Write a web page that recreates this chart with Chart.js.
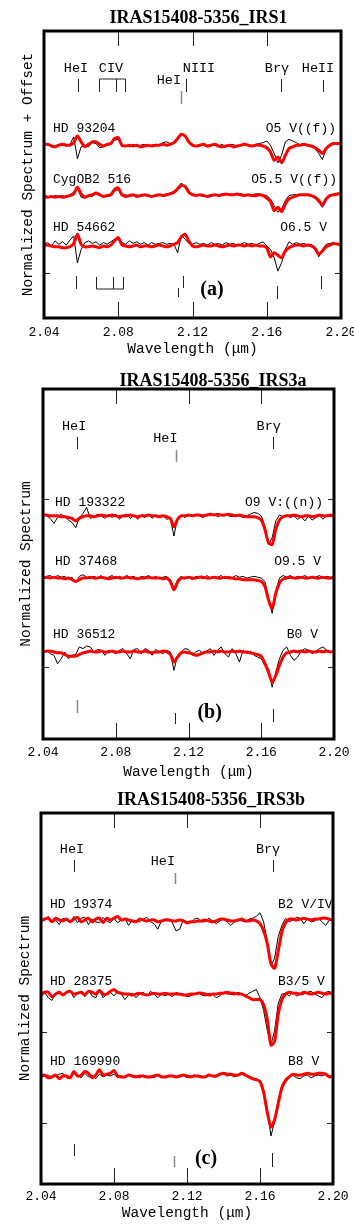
<!DOCTYPE html>
<html><head><meta charset="utf-8">
<script src="https://cdn.jsdelivr.net/npm/chart.js@4.4.1/dist/chart.umd.min.js"></script>
<style>
html,body{margin:0;padding:0;background:#fff;width:354px;height:1232px;overflow:hidden;}
canvas{position:absolute;left:0;}
</style></head><body>
<canvas id="pa" width="354" height="360" style="top:0px"></canvas>
<canvas id="pb" width="354" height="420" style="top:362px"></canvas>
<canvas id="pc" width="354" height="447" style="top:785px"></canvas>
<script>
// ---------- DATA ----------
const wavelengths = [2.040,2.042,2.044,2.046,2.048,2.050,2.052,2.054,2.056,2.058,2.060,2.062,2.064,2.066,2.068,2.070,2.072,2.074,2.076,2.078,2.080,2.082,2.084,2.086,2.088,2.090,2.092,2.094,2.096,2.098,2.100,2.102,2.104,2.106,2.108,2.110,2.112,2.114,2.116,2.118,2.120,2.122,2.124,2.126,2.128,2.130,2.132,2.134,2.136,2.138,2.140,2.142,2.144,2.146,2.148,2.150,2.152,2.154,2.156,2.158,2.160,2.162,2.164,2.166,2.168,2.170,2.172,2.174,2.176,2.178,2.180,2.182,2.184,2.186,2.188,2.190,2.192,2.194,2.196,2.198,2.200];
const xTickLabels = [2.04, 2.08, 2.12, 2.16, 2.20];

// Panel (a) IRS1 - flux deviations from continuum in percent
const titleA = 'IRAS15408-5356_IRS1';
const starsA = ['HD 93204', 'CygOB2 516', 'HD 54662'];
const typesA = ['O5 V((f))', 'O5.5 V((f))', 'O6.5 V'];
const offsetsA = [0.6, 0.3, 0];
const yRangeA = [0.571, 2.280];
const yTicksA = [0.84];
const a1Red = [0.5,0.5,-0.5,-1,0,0.5,0,0,1.5,5.5, 2,-1,0.5,2,2,0.5,-0.5,0.5,1,4, 4.5,0,-0.5,0,-0.5,0,-1,-0.5,0,-0.5, 0,0,0.5,0,0.5,1.5,4,6.5,5.5,2, 0,-0.5,0,0.5,-0.5,0,0.5,-0.5,-1,-0.5, 0,-1,-0.5,0,0.5,0,-0.5,0,0,-0.5, -1.5,-4,-9,-7,-10.5,-6,-2,-1,0,0, 0.5,0,-0.5,-1.5,-3,-5,-2,0,1,1,1];
const a1Black = [0,1,0,-1,0.5,0,-0.5,0.5,5,-8, -1,0,-1,1.5,1,-1.5,-1,0,0.5,3, 3.5,-1,0,-1,0.5,-0.5,0,0.5,-0.5,0, 0.5,0,1.5,2,1,2,4.5,6.5,5,1.5, 0.5,-0.5,0.5,0,-1,0.5,0,-0.5,0.5,-1, 0,0.5,-0.5,0,1,0,-0.5,0.5,1,1.5, 2.5,0,-5,-10.5,-6,2,3.5,2.5,1.5,0, 0.5,0,-0.5,-2,-5,-8.5,-2,0,0.5,1,0.5];
const a2Red = [-0.5,-1,-0.5,-1,-0.5,-1,-0.5,0,1,5, 1,-1,0,0.5,1.5,0.5,-0.5,0,0.5,3.5, 4.5,0.5,-0.5,0,0.5,-0.5,0,0.5,0,-0.5, 0,0.5,0,0.5,1,2,4,6,5.5,2, 0.5,0,0.5,0,-0.5,0,0.5,0,0.5,1, 0.5,0.5,1,0.5,0,0.5,0,0,0.5,0, -1.5,-3.5,-9,-7,-9.5,-5,-2,-1,0,0.5, 0.5,0.5,0,-1,-3,-5.5,-2,0,0.5,1,1];
const a2Black = [0,-0.5,-1,0,-0.5,0,-1,0.5,2,4.5, -1,-1.5,0,-0.5,1,0,-1,0.5,0,3, 3.5,0,0.5,-0.5,0,0.5,-0.5,0,0.5,0, -0.5,0.5,0,1,1.5,2.5,5,7.5,5,1.5, 0,0.5,0,-0.5,0,0.5,0,0.5,1,0.5, 1,0.5,0.5,1,0.5,0,0.5,1,1,0.5, 0,-2,-6,-10,-8,-3,0,0.5,0.5,0, 0.5,0,-0.5,-1.5,-4,-7,-2.5,0,0.5,0.5,1];
const a3Red = [0.5,0.5,0,-0.5,-0.5,-1,-1,-0.5,1.5,7, 1,-0.5,-0.5,0,-0.5,-1,0,-0.5,0.5,3, 5,0.5,0,-0.5,0,0.5,-0.5,0,0,-0.5, 0,0.5,0,-0.5,0,1,2,5.5,7,3, 0,-0.5,0,0.5,0,0,0.5,0,-0.5,0, 0.5,0,0.5,0.5,0,0.5,0,0.5,0,0, -1,-6.5,-4,-5.5,-7,-3,-1,0,0.5,0.5, 0,0.5,0,-1.5,-5,-3,-0.5,0.5,1.5,1,1];
const a3Black = [1,2,0,3,1,2.5,0.5,3.5,6,-10, -2,2,3,1.5,2.5,0.5,2,1,2.5,4, 4,2,1,3,1.5,2.5,1,2,0.5,2, 1,1.5,2,1,1.5,1,-4,6.5,4,1.5, 1,2,1,1.5,0.5,2,1,1.5,0.5,2, 1,1.5,0.5,1,2,1,1.5,0.5,1.5,2.5, 0,-2,-7,-15,-10,-2,2.5,1,2,1, 1.5,0.5,1,-1,-6.5,-2,1,1.5,2,1,1.5];
const idTextA = ['HeI', 'CIV', 'HeI', 'NIII', 'Brγ', 'HeII'];
const idWaveA = [2.0572, 2.0761, 2.1073, 2.1235, 2.1655, 2.1876];
const markTopA = [2.0583, 2.1138, 2.1165, 2.1677, 2.1903];
const civTopA = [2.0696, 2.0788, 2.0836];
const markBotA = [2.0572, 2.1122, 2.1149, 2.1655, 2.1892];
const civBotA = [2.0680, 2.0772, 2.0826];

// Panel (b) IRS3a
const titleB = 'IRAS15408-5356_IRS3a';
const starsB = ['HD 193322', 'HD 37468', 'HD 36512'];
const typesB = ['O9 V:((n))', 'O9.5 V', 'B0 V'];
const offsetsB = [0.81, 0.44, 0];
const yRangeB = [0.482, 2.565];
const yTicksB = [0.91, 1.91];
const b1Red = [0.5,0.5,0,0,0,-0.5,-0.5,-1,-1.5,-3, -1.5,-0.5,0,0,-0.5,0,0.5,0,0,0.5, 0,-0.5,0,0,0.5,0,-0.5,0,0,0.5, 0,0,-0.5,0,-0.5,-1.5,-6.5,-2,0,0, 0.5,0,0.5,0.5,0,0.5,1,0.5,1,0.5, 0.5,1,0.5,0,0.5,0,-0.5,-0.5,-0.5,-1, -2.5,-8,-16,-17,-8,-2.5,-0.5,0,0,0.5, 0,-0.5,0,0,-0.5,0,0.5,0,0,0.5,0];
const b1Black = [0.5,0,-1.5,-4.5,-1,1,-0.5,-2.5,-4,-7, -1,1.5,5,-1.5,-0.5,1,0,-1.5,0.5,-1, 1,-2,0,1,-1.5,0.5,-2,0,-1,1, -1.5,0.5,-1,0,-2,-1.5,-12,-1,0.5,-1, 0.5,-0.5,1,0,-1,0.5,0,1,-0.5,0.5, 1,0,-0.5,0.5,0,-1,0,1,2,1.5, 0,-6,-17,-13,-3,0.5,-0.5,0.5,-1,0, -2,-0.5,-3,0,-2.5,-1,0,-2,0.5,-0.5,0];
const b2Red = [0,0.5,0,0.5,0,0,-0.5,0,-1,-2, -1,0,0,0.5,0,0,0.5,0,-0.5,0, 0.5,0,0,0.5,0,0,-0.5,0,0,0.5, 0,0,0,-0.5,0,-2,-7,-2.5,0,0, 0.5,0,0,0.5,0.5,0,0,0.5,0,0, 0.5,0,0,-0.5,-0.5,-1,-1,-1,-1,-1.5, -2,-5,-13,-18,-9,-3,-0.5,0,0.5,0, 0,0.5,0,0,0.5,0,0,0.5,0,0,0.5];
const b2Black = [-1,1,1.5,0,1.5,0.5,1,-0.5,0.5,-3, 1,2,0.5,-0.5,1,0,1.5,-0.5,0.5,1.5, -0.5,1,0,1.5,0.5,1,-0.5,1,0.5,1.5, 0,1,-0.5,0.5,1,-1.5,-6.5,-1,1,-0.5, 0.5,-1,1,0.5,-0.5,1.5,0,1,0.5,1.5, -0.5,1,0,1.5,0.5,1,0,0.5,1,0.5, 0,-2,-12,-21,-8,0,1.5,0.5,1.5,0, 1,0.5,1.5,0,1,0.5,1.5,0,1,0.5,0];
const b3Red = [0,0.5,0.5,0,-0.5,-0.5,-1.5,-2.5,-2.5,-2.5, -1.5,-0.5,0,0.5,0,0,0.5,0,0,0.5, 0,0,0.5,0,0,0.5,0,0,0.5,0, -0.5,0,0,0.5,0,-1.5,-6,-3,-0.5,0, -0.5,-1,-2,-1.5,-0.5,0,0,0.5,0,0.5, 0,0,0.5,0,0.5,0,0,-0.5,-1,-1.5, -2.5,-7,-12,-18,-14,-8,-3,-0.5,0,0.5, 0,0.5,0,0.5,0,0,0.5,0,0.5,0,0.5];
const b3Black = [0,1,-1,-2,-7,-4,0,-4,-2,-1.5, 3,2,3.5,3,0,1.5,1,-2,1,0, -1,1,2,-1,-4,1.5,2,-1,2,1, -2,1.5,0,-1,1,0,-11,-2,0,2, 1.5,-2,0,1,-1,0.5,2,-2,1,3, -1,-3,2,-1,-6,1,-1,0.5,-2,-3, -4,-8,-10,-21,-12,-4,1,3,-2,-5, -3,0.5,2,1,-1,0.5,2,3,1,0,0.5];
const idTextB = ['HeI', 'HeI', 'Brγ'];
const idWaveB = [2.0571, 2.1073, 2.1641];
const markTopB = [2.0588, 2.1134, 2.1663];
const markBotB = [2.0588, 2.1128, 2.1663];

// Panel (c) IRS3b
const titleC = 'IRAS15408-5356_IRS3b';
const starsC = ['HD 19374', 'HD 28375', 'HD 169990'];
const typesC = ['B2 V/IV', 'B3/5 V', 'B8 V'];
const offsetsC = [0.857, 0.45, 0];
const yRangeC = [0.4066, 2.445];
const yTicksC = [0.742, 1.242];
const c1Red = [-0.5,0.5,1,-1,1,0,-0.5,0.5,-1,0.5, 1.5,-1,0,1,-1,0.5,1,-1.5,1,0, 1,2,0,0.5,0,-0.5,-1,0.5,0,-0.5, 0,0,-1,-0.5,0,0,-0.5,-0.5,0,-0.5, -1.5,-1,-1,-0.5,-0.5,0,-0.5,-1,-0.5,0.5, 0.5,0,-0.5,-0.5,0,0.5,-0.5,-0.5,0,-0.5, -2,-6,-13,-24,-26.5,-17,-6.5,-1.5,0.5,0.5, 0,0.5,1,0.5,0,0.5,0.5,1,1,0.5,0];
const c1Black = [-0.5,0,2,-1.5,0,-2.5,1,0,-1.5,2, -1.5,1,1.5,-2.5,0.5,-1,-1.5,1.5,-0.5,-1.5, 1,-1.5,0,1,-3,0,-0.5,-1,0.5,1.5, -1,-2,-5,-0.5,0.5,0.5,-1.5,-6,-5,0, -1,-1.5,0.5,1,-1,-1,1,-0.5,-2,-0.5, 0.5,-1,-3,-1,0,-0.5,-1,0.5,1,2, 4,-1,-12,-25,-21,-9,-3,1,-1,0, 1.5,1,-2,0.5,-1,-0.5,1,-1,-3,0,0];
const c2Red = [-0.5,1,1,-1.5,0,1,-0.5,1,1.5,0, 0.5,1,-0.5,1.5,1,0,2,0,0,1.5, 2.5,1,0.5,0,0,-0.5,0,0.5,0,-0.5, 0,0.5,0,0,0.5,0,0,0,0,-0.5, -0.5,0,0,0.5,0.5,0,-0.5,0,0,0.5, 0.5,1,0.5,0.5,0,0,-1,-2,-3,-3, -3,-6,-14,-28,-26,-11,-3,0,1,0.5, 0.5,0,1,0.5,0,0.5,1,0.5,0,0.5,0.5];
const c2Black = [-1,1,-2,-3.5,0.5,1.5,-1,0.5,2,-2, 0.5,1.5,-1.5,2,-1,-2,2.5,-2,0,1, -1,1.5,0,-3,-0.5,0.5,-2,0,1,-1, 1.5,0,-2,0,-1,0,-1.5,1,0,0, -1.5,-1,0,1,-0.5,-1,0.5,0,-2,-1, 1,0,0,-0.5,1,0,-1,0.5,1.5,2.5, -2,-9,-20,-28,-20,-5,0,0.5,-1,1, -1,0,0,1,1.5,0,-1,-2,1,1.5,0];
const c3Red = [0,0.5,-1,-0.5,0.5,-1.5,0,0,-1,2.5, 0,0.5,2.5,1.5,-1,0.5,3.5,0.5,1,1.5, 3,0,-0.5,-0.5,0.5,0,-0.5,0,0,-0.5, -0.5,0,0.5,-0.5,-0.5,0,0,-0.5,0,0.5, 0,-0.5,0,0,-0.5,-0.5,0.5,0,0,1, 1.5,1,1,0.5,0.5,1.5,0.5,-0.5,-1.5,-2, -3,-9,-20,-28,-24,-15,-6.5,-2.5,-0.5,1, 0.5,0.5,1,1.5,1,1,1.5,1.5,1,-0.5,0];
const c3Black = [-0.5,0,0.5,-1,0,1,1.5,-1,-1.5,1.5, 0.5,-1,1.5,-0.5,0.5,-1.5,1,-0.5,0.5,0, 1,-1,0,-1,0.5,-0.5,0,-1,0.5,-0.5, 0,-1,0.5,0,-1,0,0.5,-0.5,-0.5,0.5, -1,0,0.5,-0.5,0,-1,0.5,0,-0.5,0.5, 1,0,0.5,-0.5,0.5,1,0,-1,-2,-1.5, -4,-8,-19,-33,-25,-13,-5,-1.5,0,0.5, -1,-1.5,0,0.5,-1,0,0.5,0,1,0,0];
const idTextC = ['HeI', 'HeI', 'Brγ'];
const idWaveC = [2.0570, 2.1068, 2.1644];
const markTopC = [2.0581, 2.1134, 2.1671];
const markBotC = [2.0581, 2.1129, 2.1666];

// ---------- LAYOUT / STYLE ----------
const MONO = '"Liberation Mono", "DejaVu Sans Mono", monospace';
const SERIF = '"Liberation Serif", "DejaVu Serif", serif';
const DARK = '#222', GREY = '#888';

const panels = [
  { id:'pa', H:360, area:{l:44, r:341, t:31, b:318}, yRange:yRangeA, yTicks:yTicksA,
    title:titleA, titlePos:[198.5, 18.5], yTitle:'Normalized Spectrum + Offset', yTitlePad:19.3, tickPad:7.2, xTitlePad:2.3,
    stars:starsA, types:typesA, offsets:offsetsA, red:[a1Red,a2Red,a3Red], black:[a1Black,a2Black,a3Black],
    starY:[128.5,180,227.3], starX:[53,53,53], typeX:[336,337,327], typeAlign:'right',
    ids:idTextA, idWave:idWaveA, idY:[37,37,49,37,37,37],
    topMarks:markTopA, topMarkY:[[48,61],[60,73],[48,61],[48,61],[49,61]], topMarkC:[DARK,GREY,DARK,DARK,DARK],
    topBracket:civTopA, topBracketY:[48,61],
    botMarks:markBotA, botMarkY:[[-42,-29],[-30,-21],[-42,-30],[-32,-19],[-42,-29]], botMarkC:[DARK,DARK,DARK,DARK,DARK],
    botBracket:civBotA, botBracketY:[-41,-29],
    tag:'(a)', tagWave:2.1305, tagY:-28 },
  { id:'pb', H:420, area:{l:43, r:334, t:27, b:377}, yRange:yRangeB, yTicks:yTicksB,
    title:titleB, titlePos:[213, 19], yTitle:'Normalized Spectrum', yTitlePad:17.3, tickPad:6.2, xTitlePad:1.3,
    stars:starsB, types:typesB, offsets:offsetsB, red:[b1Red,b2Red,b3Red], black:[b1Black,b2Black,b3Black],
    starY:[141,199.7,273], starX:[55,55,53], typeX:[323,321,318], typeAlign:'right',
    ids:idTextB, idWave:idWaveB, idY:[37,49,37],
    topMarks:markTopB, topMarkY:[[48,60],[61,73],[48,60]], topMarkC:[DARK,GREY,DARK],
    topBracket:null, topBracketY:null,
    botMarks:markBotB, botMarkY:[[-39,-26],[-26,-15],[-30,-17]], botMarkC:[GREY,DARK,DARK],
    botBracket:null, botBracketY:null,
    tag:'(b)', tagWave:2.1316, tagY:-26 },
  { id:'pc', H:447, area:{l:41, r:333, t:28, b:399}, yRange:yRangeC, yTicks:yTicksC,
    title:titleC, titlePos:[211, 15], yTitle:'Normalized Spectrum', yTitlePad:16.3, tickPad:5.2, xTitlePad:10.3,
    stars:starsC, types:typesC, offsets:offsetsC, red:[c1Red,c2Red,c3Red], black:[c1Black,c2Black,c3Black],
    starY:[120,196.7,276.7], starX:[50,50,50], typeX:[278,278,288], typeAlign:'left',
    ids:idTextC, idWave:idWaveC, idY:[36,48,36],
    topMarks:markTopC, topMarkY:[[47,59],[60,71],[47,59]], topMarkC:[DARK,GREY,DARK],
    topBracket:null, topBracketY:null,
    botMarks:markBotC, botMarkY:[[-40,-28],[-28,-17],[-31,-17]], botMarkC:[DARK,GREY,DARK],
    botBracket:null, botBracketY:null,
    tag:'(c)', tagWave:2.1304, tagY:-25 }
];

function pts(vals, off) { return wavelengths.map((w, i) => ({x: w, y: 1 + vals[i] / 100 + off})); }

function decor(P) {
  return { id: 'decor_' + P.id, afterDraw(chart) {
    const {ctx, chartArea: a, scales: {x, y}} = chart;
    const X = v => Math.round(x.getPixelForValue(v)) + 0.5;
    const seg = (x0, y0, x1, y1, c, w) => { ctx.beginPath(); ctx.strokeStyle = c; ctx.lineWidth = w; ctx.moveTo(x0, y0); ctx.lineTo(x1, y1); ctx.stroke(); };
    ctx.save();
    // inward x ticks
    xTickLabels.slice(1, -1).forEach(v => { const px = X(v); seg(px, a.top, px, a.top + 15, DARK, 1); seg(px, a.bottom, px, a.bottom - 16, DARK, 1); });
    // inward y ticks
    P.yTicks.forEach(v => { const py = Math.round(y.getPixelForValue(v)) + 0.5; seg(a.left, py, a.left + 6, py, DARK, 1); seg(a.right - 6, py, a.right, py, DARK, 1); });
    // frame
    ctx.lineWidth = 3; ctx.strokeStyle = '#000';
    ctx.strokeRect(a.left, a.top, a.right - a.left, a.bottom - a.top);
    // title
    ctx.fillStyle = '#000'; ctx.textBaseline = 'middle'; ctx.textAlign = 'center';
    ctx.font = 'bold 18px ' + SERIF;
    ctx.fillText(P.title, P.titlePos[0], P.titlePos[1]);
    // line identifications
    ctx.font = '13.5px ' + MONO;
    P.ids.forEach((t, k) => ctx.fillText(t, x.getPixelForValue(P.idWave[k]), a.top + P.idY[k]));
    P.topMarks.forEach((w, k) => { const px = X(w); seg(px, a.top + P.topMarkY[k][0], px, a.top + P.topMarkY[k][1], P.topMarkC[k], P.topMarkC[k] === GREY ? 1.5 : 1); });
    if (P.topBracket) {
      const [y0, y1] = P.topBracketY;
      seg(X(P.topBracket[0]), a.top + y0, X(P.topBracket[P.topBracket.length - 1]), a.top + y0, DARK, 1);
      P.topBracket.forEach(w => seg(X(w), a.top + y0, X(w), a.top + y1, DARK, 1));
    }
    P.botMarks.forEach((w, k) => { const px = X(w); seg(px, a.bottom + P.botMarkY[k][0], px, a.bottom + P.botMarkY[k][1], P.botMarkC[k], P.botMarkC[k] === GREY ? 1.5 : 1); });
    if (P.botBracket) {
      const [y0, y1] = P.botBracketY;
      seg(X(P.botBracket[0]), a.bottom + y1, X(P.botBracket[P.botBracket.length - 1]), a.bottom + y1, DARK, 1);
      P.botBracket.forEach(w => seg(X(w), a.bottom + y0, X(w), a.bottom + y1, DARK, 1));
    }
    // star names and spectral types
    ctx.save();
    ctx.beginPath(); ctx.rect(a.left + 1.5, a.top, a.right - a.left - 3, a.bottom - a.top); ctx.clip();
    ctx.font = '13px ' + MONO; ctx.textAlign = 'left';
    P.stars.forEach((s, k) => ctx.fillText(s, P.starX[k], P.starY[k]));
    ctx.textAlign = P.typeAlign;
    P.types.forEach((s, k) => ctx.fillText(s, P.typeX[k], P.starY[k]));
    ctx.restore();
    // panel tag
    ctx.font = 'bold 20px ' + SERIF; ctx.textAlign = 'center';
    ctx.fillText(P.tag, x.getPixelForValue(P.tagWave), a.bottom + P.tagY);
    ctx.restore();
  }};
}

panels.forEach(P => {
  const datasets = [];
  P.stars.forEach((s, k) => {
    datasets.push({ label: s + ' (IRAS)', data: pts(P.red[k], P.offsets[k]), borderColor: '#ff0000', borderWidth: 3,
      pointRadius: 0, tension: 0.25, order: 0, borderJoinStyle: 'round', borderCapStyle: 'round' });
    datasets.push({ label: s, data: pts(P.black[k], P.offsets[k]), borderColor: '#000000', borderWidth: 1,
      pointRadius: 0, tension: 0, order: 1 });
  });
  new Chart(document.getElementById(P.id), {
    type: 'line',
    data: { datasets },
    options: {
      responsive: false, animation: false, devicePixelRatio: 1,
      layout: { padding: { left: 0, right: 354 - P.area.r, top: P.area.t, bottom: 0 } },
      plugins: { legend: { display: false }, tooltip: { enabled: false }, title: { display: false } },
      scales: {
        x: { type: 'linear', min: xTickLabels[0], max: xTickLabels[xTickLabels.length - 1],
          afterBuildTicks: s => { s.ticks = xTickLabels.map(v => ({ value: v })); },
          grid: { display: false, drawTicks: false }, border: { display: false },
          ticks: { callback: v => Number(v).toFixed(2), font: { family: MONO, size: 13 }, color: '#000', padding: P.tickPad, maxRotation: 0, autoSkip: false },
          title: { display: true, text: 'Wavelength (μm)', font: { family: MONO, size: 14.5 }, color: '#000', padding: { top: 0, bottom: P.xTitlePad } },
          afterFit: s => { s.height = P.H - P.area.b; s.paddingLeft = 0; s.paddingRight = 0; } },
        y: { type: 'linear', min: P.yRange[0], max: P.yRange[1],
          grid: { display: false, drawTicks: false }, border: { display: false },
          ticks: { display: false },
          title: { display: true, text: P.yTitle, font: { family: MONO, size: 14.5 }, color: '#000', padding: { top: P.yTitlePad, bottom: 0 } },
          afterFit: s => { s.width = P.area.l; s.paddingTop = 0; s.paddingBottom = 0; } }
      }
    },
    plugins: [decor(P)]
  });
});
</script>
</body></html>
